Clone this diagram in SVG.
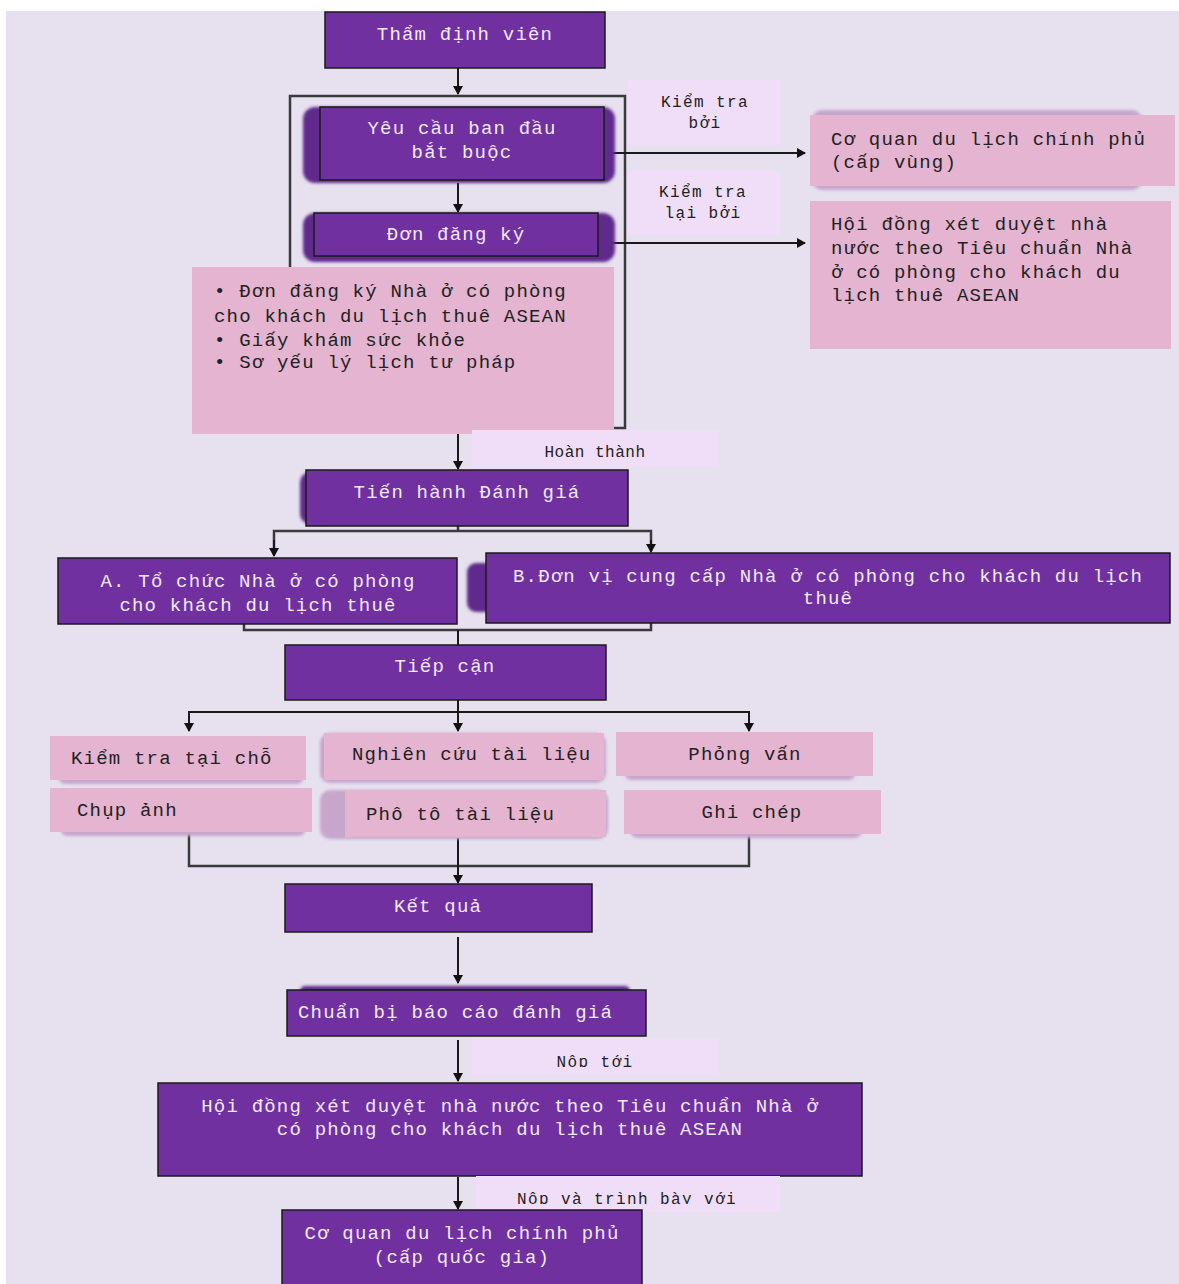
<svg xmlns="http://www.w3.org/2000/svg" width="1179" height="1284" viewBox="0 0 1179 1284">
<defs>
<marker id="ah" markerWidth="10" markerHeight="10" refX="8" refY="5" orient="auto" markerUnits="userSpaceOnUse">
<path d="M0,0 L9,5 L0,10 Z" fill="#111"/>
</marker>
<filter id="soft" x="-10%" y="-20%" width="120%" height="140%"><feGaussianBlur stdDeviation="1.5"/></filter>
</defs>
<style>
.p{fill:#7030a0;stroke:#1a1a1a;stroke-width:1.5}
.sh{fill:#5e2a8c;filter:url(#soft)}
.pk{fill:#e4b4d0}
.pks{fill:#c7a6cc;filter:url(#soft)}
.lb{fill:#f0def8}
.t{font-family:"Liberation Mono","DejaVu Sans Mono",monospace;font-size:19px;letter-spacing:1.2px}
.w{fill:#f2eaf8}
.d{fill:#222}
.s{font-family:"Liberation Mono","DejaVu Sans Mono",monospace;font-size:16px;letter-spacing:1.4px;fill:#222}
.c{text-anchor:middle}
.ln{fill:none;stroke:#1a1a1a;stroke-width:2}
.gl{fill:none;stroke:#3a3a3a;stroke-width:2.5}
</style>
<rect x="0" y="0" width="1179" height="1284" fill="#ffffff"/>
<rect x="6" y="11" width="1173" height="1273" fill="#e6e0ef"/>

<g id="connectors">
<rect x="290" y="96" width="335" height="332" class="gl"/>
<line x1="458" y1="68" x2="458" y2="94" class="ln" marker-end="url(#ah)"/>
<line x1="458" y1="183" x2="458" y2="212" class="ln" marker-end="url(#ah)"/>
<line x1="604" y1="153" x2="805" y2="153" class="ln" marker-end="url(#ah)"/>
<line x1="598" y1="243" x2="805" y2="243" class="ln" marker-end="url(#ah)"/>
<line x1="458" y1="434" x2="458" y2="469" class="ln" marker-end="url(#ah)"/>
<polyline points="458,526 458,531" class="gl"/>
<polyline points="274,555 274,531 651,531 651,551" class="gl"/>
<line x1="274" y1="540" x2="274" y2="556" class="ln" marker-end="url(#ah)"/>
<line x1="651" y1="540" x2="651" y2="552" class="ln" marker-end="url(#ah)"/>
<polyline points="244,624 244,630 651,630 651,623" class="gl"/>
<line x1="458" y1="630" x2="458" y2="645" class="ln"/>
<line x1="458" y1="700" x2="458" y2="712" class="ln"/>
<polyline points="189,730 189,712 749,712 749,730" class="ln"/>
<line x1="189" y1="715" x2="189" y2="731" class="ln" marker-end="url(#ah)"/>
<line x1="458" y1="712" x2="458" y2="731" class="ln" marker-end="url(#ah)"/>
<line x1="749" y1="715" x2="749" y2="731" class="ln" marker-end="url(#ah)"/>
<polyline points="189,832 189,866 749,866 749,834" class="gl"/>
<line x1="458" y1="838" x2="458" y2="883" class="ln" marker-end="url(#ah)"/>
<line x1="458" y1="937" x2="458" y2="983" class="ln" marker-end="url(#ah)"/>
<line x1="458" y1="1040" x2="458" y2="1081" class="ln" marker-end="url(#ah)"/>
<line x1="458" y1="1177" x2="458" y2="1209" class="ln" marker-end="url(#ah)"/>
</g>

<g id="n-thamdinh">
<rect x="325" y="12" width="280" height="56" class="p"/>
<text x="465" y="40" class="t w c">Thẩm định viên</text>
</g>

<g id="n-yeucau">
<rect x="303" y="107" width="312" height="76" rx="12" class="sh"/>
<rect x="320" y="107" width="284" height="73" class="p"/>
<text x="462" y="134" class="t w c">Yêu cầu ban đầu</text>
<text x="462" y="158" class="t w c">bắt buộc</text>
</g>

<g id="n-dondangky">
<rect x="303" y="213" width="312" height="49" rx="12" class="sh"/>
<rect x="314" y="213" width="284" height="43" class="p"/>
<text x="456" y="240" class="t w c">Đơn đăng ký</text>
</g>

<g id="n-hoso">
<rect x="192" y="267" width="422" height="167" class="pk"/>
<text x="214" y="297" class="t d">• Đơn đăng ký Nhà ở có phòng</text>
<text x="214" y="322" class="t d">cho khách du lịch thuê ASEAN</text>
<text x="214" y="346" class="t d">• Giấy khám sức khỏe</text>
<text x="214" y="368" class="t d">• Sơ yếu lý lịch tư pháp</text>
</g>

<g id="l-kiemtra">
<rect x="628" y="80" width="152" height="65" class="lb"/>
<text x="705" y="107" class="s c">Kiểm tra</text>
<text x="705" y="128" class="s c">bởi</text>
</g>

<g id="l-kiemtralai">
<rect x="628" y="170" width="152" height="65" class="lb"/>
<text x="703" y="197" class="s c">Kiểm tra</text>
<text x="703" y="218" class="s c">lại bởi</text>
</g>

<g id="n-coquanvung">
<rect x="812" y="110" width="330" height="80" rx="10" class="pks"/>
<rect x="810" y="115" width="365" height="71" class="pk"/>
<text x="831" y="145" class="t d">Cơ quan du lịch chính phủ</text>
<text x="831" y="168" class="t d">(cấp vùng)</text>
</g>

<g id="n-hoidong1">
<rect x="810" y="201" width="361" height="148" class="pk"/>
<text x="831" y="230" class="t d">Hội đồng xét duyệt nhà</text>
<text x="831" y="254" class="t d">nước theo Tiêu chuẩn Nhà</text>
<text x="831" y="278" class="t d">ở có phòng cho khách du</text>
<text x="831" y="301" class="t d">lịch thuê ASEAN</text>
</g>

<g id="l-hoanthanh">
<rect x="472" y="430" width="247" height="37" class="lb"/>
<text x="595" y="457" class="s c" style="letter-spacing:0.5px">Hoàn thành</text>
</g>

<g id="n-tienhanh">
<rect x="300" y="472" width="40" height="52" rx="10" class="sh"/>
<rect x="306" y="470" width="322" height="56" class="p"/>
<text x="467" y="498" class="t w c">Tiến hành Đánh giá</text>
</g>

<g id="n-a">
<rect x="58" y="558" width="399" height="66" class="p"/>
<text x="258" y="587" class="t w c">A. Tổ chức Nhà ở có phòng</text>
<text x="258" y="611" class="t w c">cho khách du lịch thuê</text>
</g>

<g id="n-b">
<rect x="467" y="563" width="30" height="49" rx="9" class="sh"/>
<rect x="486" y="553" width="684" height="70" class="p"/>
<text x="828" y="582" class="t w c">B.Đơn vị cung cấp Nhà ở có phòng cho khách du lịch</text>
<text x="828" y="604" class="t w c">thuê</text>
</g>

<g id="n-tiepcan">
<rect x="285" y="645" width="321" height="55" class="p"/>
<text x="445" y="672" class="t w c">Tiếp cận</text>
</g>

<g id="n-kiemtrataicho">
<rect x="58" y="744" width="246" height="40" rx="8" class="pks"/>
<rect x="50" y="736" width="256" height="44" class="pk"/>
<text x="71" y="764" class="t d">Kiểm tra tại chỗ</text>
</g>

<g id="n-chupanh">
<rect x="60" y="796" width="246" height="40" rx="8" class="pks"/>
<rect x="50" y="788" width="262" height="44" class="pk"/>
<text x="77" y="816" class="t d">Chụp ảnh</text>
</g>

<g id="n-nghiencuu">
<rect x="320" y="733" width="286" height="50" rx="10" class="pks"/>
<rect x="324" y="733" width="280" height="47" class="pk"/>
<text x="352" y="760" class="t d">Nghiên cứu tài liệu</text>
</g>

<g id="n-photo">
<rect x="320" y="790" width="288" height="49" rx="10" class="pks"/>
<rect x="345" y="790" width="261" height="47" class="pk"/>
<text x="366" y="820" class="t d">Phô tô tài liệu</text>
</g>

<g id="n-phongvan">
<rect x="624" y="740" width="232" height="40" rx="8" class="pks"/>
<rect x="616" y="732" width="257" height="44" class="pk"/>
<text x="745" y="760" class="t d c">Phỏng vấn</text>
</g>

<g id="n-ghichep">
<rect x="630" y="798" width="232" height="40" rx="8" class="pks"/>
<rect x="624" y="790" width="257" height="44" class="pk"/>
<text x="752" y="818" class="t d c">Ghi chép</text>
</g>

<g id="n-ketqua">
<rect x="285" y="884" width="307" height="48" class="p"/>
<text x="438" y="912" class="t w c">Kết quả</text>
</g>

<g id="n-chuanbi">
<rect x="300" y="986" width="330" height="12" rx="5" class="sh"/>
<rect x="287" y="990" width="359" height="46" class="p"/>
<text x="298" y="1018" class="t w">Chuẩn bị báo cáo đánh giá</text>
</g>

<g id="l-noptoi">
<rect x="472" y="1038" width="247" height="37" class="lb"/>
<svg x="472" y="1038" width="247" height="29" overflow="hidden">
<text x="123" y="29" class="s c">Nộp tới</text>
</svg>
</g>

<g id="n-hoidong2">
<rect x="158" y="1083" width="704" height="93" class="p"/>
<text x="510" y="1112" class="t w c">Hội đồng xét duyệt nhà nước theo Tiêu chuẩn Nhà ở</text>
<text x="510" y="1135" class="t w c">có phòng cho khách du lịch thuê ASEAN</text>
</g>

<g id="l-nopvatrinhbay">
<rect x="476" y="1176" width="304" height="36" class="lb"/>
<svg x="476" y="1176" width="304" height="28" overflow="hidden">
<text x="151" y="28" class="s c">Nộp và trình bày với</text>
</svg>
</g>

<g id="n-coquanqg">
<rect x="282" y="1210" width="360" height="80" class="p"/>
<text x="462" y="1239" class="t w c">Cơ quan du lịch chính phủ</text>
<text x="462" y="1263" class="t w c">(cấp quốc gia)</text>
</g>
</svg>
